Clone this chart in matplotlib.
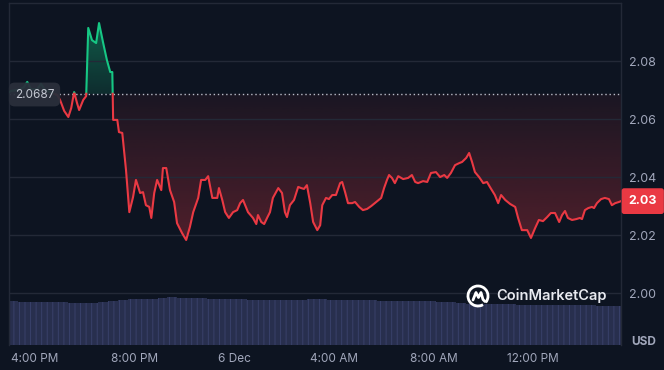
import numpy as np
import matplotlib
matplotlib.use('Agg')
import matplotlib.pyplot as plt
from matplotlib.path import Path
from matplotlib.colors import to_rgb
from matplotlib.patches import Arc

plt.rcParams['font.family'] = ['Inter', 'DejaVu Sans']
plt.rcParams['hatch.linewidth'] = 0.7

# price, minutes after 4:00 PM (5 Dec)
minutes = [-65, -58, -41, -27, -19, -10, 5, 14, 24, 36, 53, 60, 70, 80, 87, 94, 101, 106, 116, 123,
           128, 137, 147, 154, 164, 173, 181, 186, 188, 198, 202, 210, 219, 227, 236, 243, 253, 260, 267, 275,
           280, 287, 294, 304, 308, 316, 325, 335, 342, 354, 364, 373, 381, 393, 400, 410, 417, 427, 439, 443,
           451, 458, 467, 477, 487, 494, 501, 513, 525, 533, 537, 545, 552, 559, 566, 573, 586, 595, 602, 607,
           614, 624, 634, 641, 648, 655, 663, 670, 680, 687, 692, 701, 708, 716, 725, 735, 740, 747, 754, 764,
           771, 781, 790, 800, 810, 822, 834, 841, 848, 853, 860, 867, 875, 887, 899, 908, 916, 923, 935, 945,
           954, 966, 976, 986, 993, 1002, 1012, 1022, 1029, 1039, 1046, 1053, 1060, 1070, 1080, 1089, 1096, 1108, 1116, 1123,
           1133, 1145, 1157, 1164, 1173, 1186, 1195, 1205, 1214, 1224, 1234, 1243, 1253, 1263, 1270, 1277, 1284, 1294, 1304, 1313,
           1318, 1325, 1333, 1342, 1347, 1354, 1364, 1373, 1383, 1390, 1398, 1407, 1412]
price = [2.0690, 2.0697, 2.0700, 2.0710, 2.0728, 2.0703, 2.0703, 2.0721, 2.0700, 2.0693, 2.0683, 2.0666, 2.0628, 2.0607, 2.0638, 2.0693, 2.0655, 2.0631, 2.0666, 2.0679,
         2.0914, 2.0872, 2.0862, 2.0931, 2.0862, 2.0803, 2.0762, 2.0762, 2.0597, 2.0597, 2.0555, 2.0552, 2.0424, 2.0279, 2.0331, 2.0390, 2.0345, 2.0348, 2.0303, 2.0297,
         2.0259, 2.0345, 2.0390, 2.0355, 2.0431, 2.0431, 2.0355, 2.0314, 2.0241, 2.0207, 2.0183, 2.0228, 2.0279, 2.0328, 2.0390, 2.0390, 2.0403, 2.0328, 2.0328, 2.0362,
         2.0321, 2.0279, 2.0259, 2.0279, 2.0286, 2.0310, 2.0321, 2.0279, 2.0259, 2.0238, 2.0269, 2.0245, 2.0238, 2.0259, 2.0279, 2.0328, 2.0362, 2.0345, 2.0279, 2.0262,
         2.0303, 2.0321, 2.0366, 2.0362, 2.0359, 2.0372, 2.0310, 2.0245, 2.0217, 2.0234, 2.0303, 2.0328, 2.0324, 2.0338, 2.0338, 2.0379, 2.0383, 2.0348, 2.0310, 2.0310,
         2.0314, 2.0297, 2.0286, 2.0290, 2.0300, 2.0314, 2.0328, 2.0362, 2.0390, 2.0407, 2.0397, 2.0379, 2.0403, 2.0393, 2.0397, 2.0407, 2.0383, 2.0379, 2.0386, 2.0383,
         2.0414, 2.0417, 2.0400, 2.0407, 2.0397, 2.0414, 2.0441, 2.0448, 2.0452, 2.0466, 2.0483, 2.0452, 2.0417, 2.0400, 2.0379, 2.0383, 2.0366, 2.0338, 2.0310, 2.0338,
         2.0321, 2.0307, 2.0297, 2.0259, 2.0217, 2.0217, 2.0190, 2.0224, 2.0252, 2.0248, 2.0262, 2.0276, 2.0276, 2.0245, 2.0269, 2.0283, 2.0259, 2.0252, 2.0255, 2.0259,
         2.0255, 2.0286, 2.0293, 2.0297, 2.0293, 2.0310, 2.0324, 2.0328, 2.0324, 2.0303, 2.0310, 2.0314, 2.0317]
open_price = 2.0687
last_label = '2.03'

# volume bars (M USD), one every 24 minutes
volume = [4.4, 4.35, 4.3, 4.3, 4.3, 4.3, 4.25, 4.2, 4.2, 4.3, 4.4, 4.5, 4.6, 4.6, 4.65, 4.7, 4.8, 4.75, 4.7, 4.7,
          4.6, 4.6, 4.6, 4.6, 4.55, 4.55, 4.55, 4.55, 4.5, 4.55, 4.6, 4.6, 4.55, 4.5, 4.5, 4.5, 4.5, 4.45, 4.45, 4.45,
          4.4, 4.4, 4.4, 4.35, 4.3, 4.2, 4.1, 4.1, 4.1, 4.1, 4.1, 4.05, 4.05, 4.0, 4.0, 4.0, 4.0, 4.0, 4.0, 3.95,
          3.9, 3.9]

tick_minutes = [0, 240, 480, 720, 960, 1200]
tick_labels = ['4:00 PM', '8:00 PM', '6 Dec', '4:00 AM', '8:00 AM', '12:00 PM']
price_ticks = [2.00, 2.02, 2.04, 2.06, 2.08]

BG = '#0d1421'
GRID = '#232937'
GREEN = '#16c784'
RED = '#ea3943'
TXT = '#a1a7bb'

W, H = 664, 370
fig = plt.figure(figsize=(W / 100, H / 100), dpi=100)
fig.patch.set_facecolor(BG)

rect = [9 / W, 1 - 345 / H, (621 - 9) / W, (345 - 3) / H]
axv = fig.add_axes(rect)
ax = fig.add_axes(rect, sharex=axv)
axv.set_facecolor(BG)
ax.patch.set_visible(False)

# volume
vol_t = -53 + 24 * np.arange(len(volume))
axv.bar(vol_t, volume, width=24, color='#282f4e', edgecolor='#39416a', linewidth=0, hatch='|||')
axv.set_ylim(0, 34.2)
axv.set_yticks([])
for s in axv.spines.values():
    s.set_visible(False)
axv.tick_params(axis='x', length=0, labelbottom=False)

# split line at the open price
t = np.array(minutes, float)
p = np.array(price)
tt, pp = [t[0]], [p[0]]
for i in range(1, len(t)):
    a, b = p[i - 1] - open_price, p[i] - open_price
    if a * b < 0:
        f = a / (a - b)
        tt.append(t[i - 1] + f * (t[i] - t[i - 1]))
        pp.append(open_price)
    tt.append(t[i])
    pp.append(p[i])
tt = np.array(tt)
pp = np.array(pp)


def grad_fill(lo, hi, color, a0, a1, y0, y1):
    coll = ax.fill_between(tt, lo, hi, facecolor='none', edgecolor='none')
    path = Path.make_compound_path(*coll.get_paths())
    img = np.zeros((256, 1, 4))
    img[..., :3] = to_rgb(color)
    img[:, 0, 3] = np.linspace(a0, a1, 256)
    im = ax.imshow(img, extent=[tt[0], tt[-1], y0, y1], origin='lower', aspect='auto',
                   interpolation='bilinear', zorder=1)
    im.set_clip_path(path, ax.transData)


grad_fill(np.minimum(pp, open_price), open_price, RED, 0.30, 0.06, pp.min(), open_price)
grad_fill(open_price, np.maximum(pp, open_price), GREEN, 0.14, 0.40, open_price, pp.max())

ax.plot(tt, np.where(pp >= open_price, pp, np.nan), color=GREEN, lw=1.5, zorder=3, solid_joinstyle='round')
ax.plot(tt, np.where(pp <= open_price, pp, np.nan), color=RED, lw=1.5, zorder=3, solid_joinstyle='round')
ax.axhline(open_price, color='#b8bcc8', lw=1.0, ls=(0, (1, 2)), zorder=2)

ax.set_xlim(-63, 1412)
ax.set_ylim(1.9821, 2.1)
ax.set_yticks(price_ticks)
ax.set_yticklabels(['%.2f' % v for v in price_ticks])
ax.yaxis.tick_right()
ax.set_xticks(tick_minutes)
ax.set_xticklabels(tick_labels)
ax.tick_params(axis='y', length=0, pad=6, labelsize=9, labelcolor=TXT)
ax.tick_params(axis='x', length=0, pad=6, labelsize=8.5, labelcolor=TXT)
ax.grid(axis='y', color=GRID, lw=1)
for k in ['left', 'right', 'top']:
    ax.spines[k].set_color(GRID)
    ax.spines[k].set_linewidth(1)
ax.spines['bottom'].set_visible(False)

# open price label
fig.text(34.5 / W, 1 - 94.5 / H, '2.0687', ha='center', va='center', fontsize=8.5, color='#c4c8d2',
         bbox=dict(boxstyle='round,pad=0.5,rounding_size=0.5', fc='#2a2f3b', ec='none', alpha=0.95), zorder=5)

# last price tag
ax.text(1 + 7.5 / 612, price[-1], last_label, transform=ax.get_yaxis_transform(), ha='left', va='center',
        fontsize=9, fontweight='bold', color='white', clip_on=False, zorder=6,
        bbox=dict(boxstyle='round,pad=0.55,rounding_size=0.2', fc=RED, ec='none'))

fig.text(644 / W, 1 - 342 / H, 'USD', ha='center', va='center', fontsize=8.5, fontweight='bold', color=TXT)

# CoinMarketCap watermark
lax = fig.add_axes([466 / W, 1 - 308 / H, 24 / W, 24 / H])
lax.set_xlim(-1.2, 1.2)
lax.set_ylim(-1.2, 1.2)
lax.axis('off')
lax.add_patch(Arc((0, 0), 2, 2, theta1=-40, theta2=300, color='white', lw=2))
lax.plot([-0.5, -0.2, 0.05, 0.3, 0.5, 0.7], [-0.4, 0.35, -0.15, 0.35, -0.35, -0.55], color='white', lw=2,
         solid_joinstyle='round', solid_capstyle='round')
fig.text(496 / W, 1 - 296 / H, 'CoinMarketCap', ha='left', va='center', fontsize=10.5, fontweight='semibold',
         color='#e8eaf0')

fig.savefig('out.png', dpi=100, facecolor=BG)
